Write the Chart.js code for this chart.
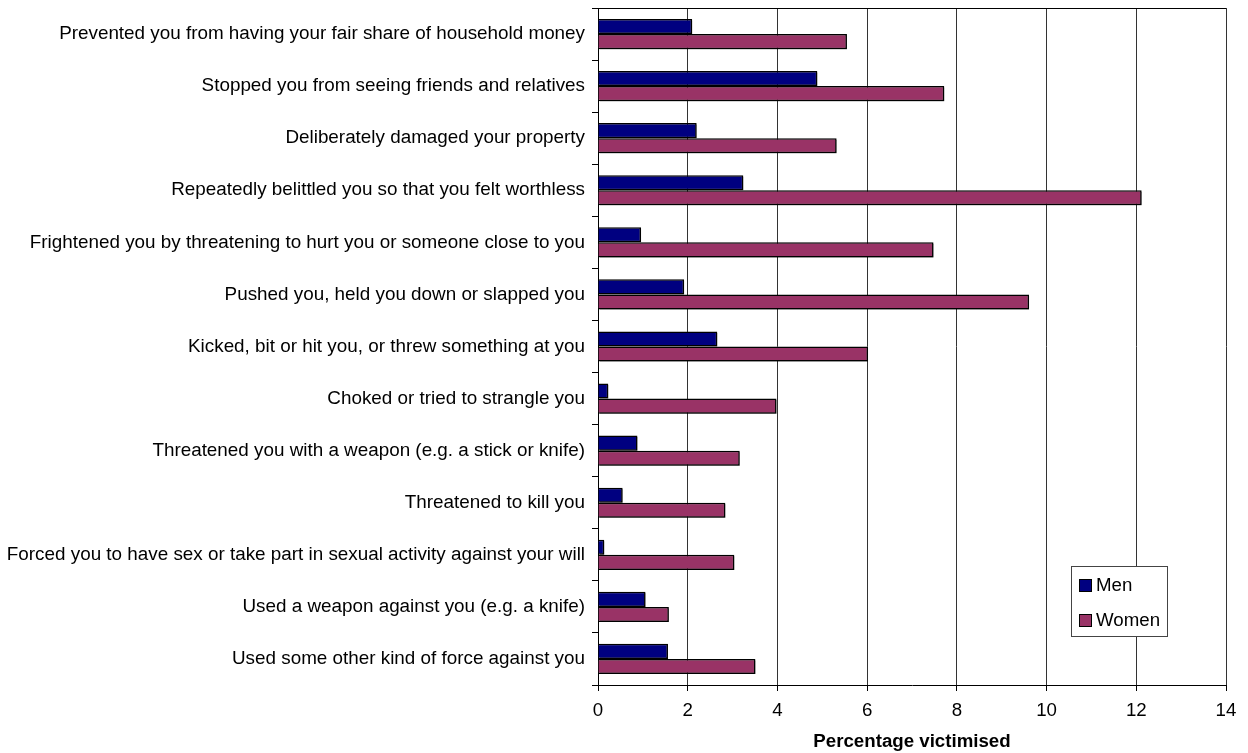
<!DOCTYPE html>
<html>
<head>
<meta charset="utf-8">
<script src="https://cdn.jsdelivr.net/npm/chart.js@4/dist/chart.umd.min.js"></script>
<style>
  html, body { margin: 0; padding: 0; background: #fff; }
  #wrap { width: 1248px; height: 753px; }
</style>
</head>
<body>
<div id="wrap"><canvas id="myChart" width="1248" height="753"></canvas></div>
<script>
const categories = [
  'Prevented you from having your fair share of household money',
  'Stopped you from seeing friends and relatives',
  'Deliberately damaged your property',
  'Repeatedly belittled you so that you felt worthless',
  'Frightened you by threatening to hurt you or someone close to you',
  'Pushed you, held you down or slapped you',
  'Kicked, bit or hit you, or threw something at you',
  'Choked or tried to strangle you',
  'Threatened you with a weapon (e.g. a stick or knife)',
  'Threatened to kill you',
  'Forced you to have sex or take part in sexual activity against your will',
  'Used a weapon against you (e.g. a knife)',
  'Used some other kind of force against you'
];
const men   = [2.10, 4.89, 2.20, 3.24, 0.96, 1.92, 2.66, 0.23, 0.88, 0.55, 0.14, 1.06, 1.56];
const women = [5.55, 7.72, 5.32, 12.12, 7.48, 9.61, 6.02, 3.98, 3.16, 2.84, 3.04, 1.58, 3.51];
const xTicks = [0, 2, 4, 6, 8, 10, 12, 14];

const FONT = "'Liberation Sans', Arial, sans-serif";
const FONT_SIZE = 18.7;
Chart.defaults.font.family = FONT;
Chart.defaults.color = '#000';

// light drop shadow under the bars
const shadowPlugin = {
  id: 'barShadow',
  beforeDatasetsDraw(chart) {
    const { ctx } = chart;
    ctx.save();
    ctx.shadowColor = 'rgba(0,0,0,0.45)';
    ctx.shadowOffsetX = 1.5;
    ctx.shadowOffsetY = 1.5;
    ctx.shadowBlur = 0;
  },
  afterDatasetsDraw(chart) {
    chart.ctx.restore();
  }
};

// top edge of the plot frame + the boxed legend in the lower right
const framePlugin = {
  id: 'frame',
  afterDraw(chart) {
    const { ctx, chartArea } = chart;
    ctx.save();
    ctx.strokeStyle = '#000';
    ctx.lineWidth = 1;
    ctx.beginPath();
    ctx.moveTo(chartArea.left, chartArea.top + 0.5);
    ctx.lineTo(chartArea.right, chartArea.top + 0.5);
    ctx.stroke();

    const bx = 1071.5, by = 566.5, bw = 96, bh = 70;
    ctx.fillStyle = '#fff';
    ctx.fillRect(bx, by, bw, bh);
    ctx.strokeStyle = '#444';
    ctx.strokeRect(bx, by, bw, bh);

    chart.data.datasets.forEach((ds, i) => {
      const y = 579.5 + i * 35;
      ctx.fillStyle = ds.backgroundColor;
      ctx.fillRect(1079.5, y, 12, 12);
      ctx.strokeStyle = '#000';
      ctx.strokeRect(1079.5, y, 12, 12);
      ctx.fillStyle = '#000';
      ctx.font = FONT_SIZE + 'px ' + FONT;
      ctx.textBaseline = 'middle';
      ctx.textAlign = 'left';
      ctx.fillText(ds.label, 1096, y + 6.5);
    });
    ctx.restore();
  }
};

const ctx = document.getElementById('myChart');
const chart = new Chart(ctx, {
  type: 'bar',
  data: {
    labels: categories,
    datasets: [
      {
        label: 'Men',
        data: men,
        backgroundColor: '#000080',
        borderColor: '#000',
        borderWidth: 1.5,
        categoryPercentage: 0.58,
        barPercentage: 1
      },
      {
        label: 'Women',
        data: women,
        backgroundColor: '#993366',
        borderColor: '#000',
        borderWidth: 1.5,
        categoryPercentage: 0.58,
        barPercentage: 1
      }
    ]
  },
  options: {
    indexAxis: 'y',
    responsive: false,
    animation: false,
    layout: { padding: { top: 8, right: 22, bottom: 0, left: 0 } },
    plugins: {
      legend: { display: false },
      tooltip: { enabled: false }
    },
    scales: {
      x: {
        min: 0,
        max: 14,
        afterBuildTicks: (scale) => { scale.ticks = xTicks.map((v) => ({ value: v })); },
        grid: { color: '#333', lineWidth: 1, tickLength: 6, tickColor: '#000' },
        border: { color: '#000', width: 1 },
        ticks: { padding: 9, font: { size: FONT_SIZE }, color: '#000' },
        title: {
          display: true,
          text: 'Percentage victimised',
          font: { size: FONT_SIZE, weight: 'bold' },
          color: '#000',
          padding: { top: 0, bottom: 0 }
        },
        afterFit: (scale) => {
          scale.height = 68;
          scale.paddingLeft = 0;
          scale.paddingRight = 0;
        }
      },
      y: {
        grid: { drawOnChartArea: false, tickLength: 6, tickColor: '#000' },
        border: { color: '#000', width: 1 },
        ticks: { padding: 7, font: { size: 18.85 }, color: '#000', autoSkip: false },
        afterFit: (scale) => {
          scale.width = 598;
          scale.paddingTop = 0;
          scale.paddingBottom = 0;
        }
      }
    }
  },
  plugins: [shadowPlugin, framePlugin]
});
</script>
</body>
</html>
